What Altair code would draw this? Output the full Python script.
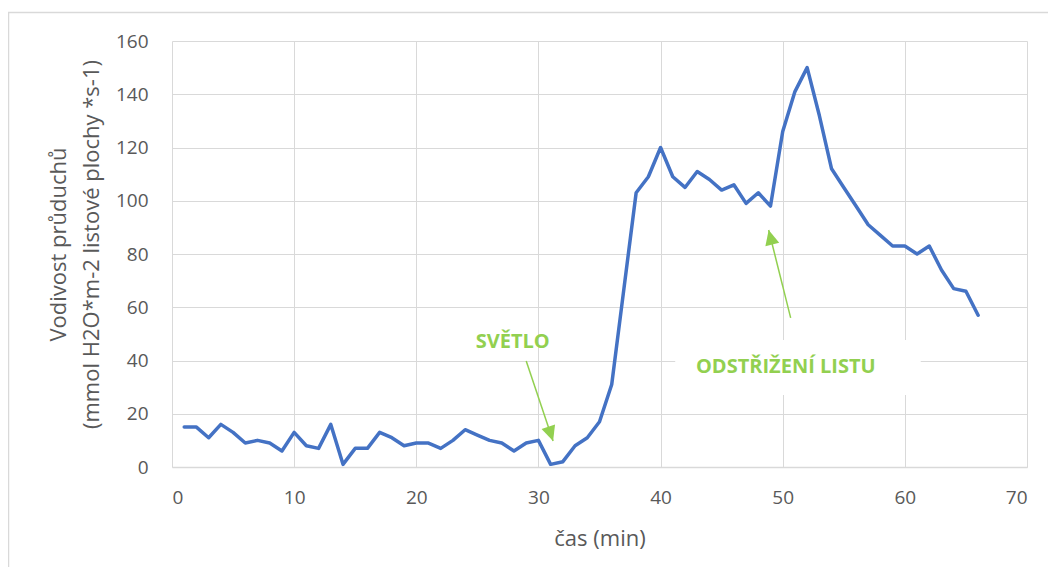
import math
import altair as alt
import pandas as pd

# ---- data ----
minutes = list(range(1, 67))
conductance = [15, 15, 11, 16, 13, 9, 10, 9, 6, 13,
               8, 7, 16, 1, 7, 7, 13, 11, 8, 9,
               9, 7, 10, 14, 12, 10, 9, 6, 9, 10,
               1, 2, 8, 11, 17, 31, 67, 103, 109, 120,
               109, 105, 111, 108, 104, 106, 99, 103, 98, 126,
               141, 150, 132, 112, 105, 98, 91, 87, 83, 83,
               80, 83, 74, 67, 66, 57]

x_ticks = [0, 10, 20, 30, 40, 50, 60, 70]
y_ticks = [0, 20, 40, 60, 80, 100, 120, 140, 160]

note_text = ["SVĚTLO", "ODSTŘIŽENÍ LISTU"]
note_x = [27.9, 50.25]
note_y = [47.0, 37.6]

arrow_x_start = [29.0, 50.65]
arrow_y_start = [39.8, 56.0]
arrow_x_tip = [31.2, 48.85]
arrow_y_tip = [9.8, 89.0]

box_x = [41.2]
box_x2 = [61.3]
box_y = [27.0]
box_y2 = [47.7]

W, H = 855, 426
X_MAX, Y_MAX = 70, 160
px_x = W / X_MAX
px_y = H / Y_MAX

df = pd.DataFrame({"t": minutes, "g": conductance})
notes = pd.DataFrame({"label": note_text, "x": note_x, "y": note_y})
angles = [math.degrees(math.atan2((xt - xs) * px_x, (yt - ys) * px_y)) % 360
          for xs, ys, xt, yt in zip(arrow_x_start, arrow_y_start, arrow_x_tip, arrow_y_tip)]
arrows = pd.DataFrame({"xs": arrow_x_start, "ys": arrow_y_start,
                       "xt": arrow_x_tip, "yt": arrow_y_tip, "ang": angles})
box = pd.DataFrame({"x": box_x, "x2": box_x2, "y": box_y, "y2": box_y2})
frame = pd.DataFrame({"k": [0]})

GREEN = "#92D050"
GREY = "#595959"
GRID = "#d9d9d9"
FONT = "Open Sans"

xscale = alt.Scale(domain=[0, X_MAX], nice=False, zero=False)
yscale = alt.Scale(domain=[0, Y_MAX], nice=False)

x_axis = alt.Axis(values=x_ticks, grid=True, gridColor=GRID, domainColor=GRID, domainWidth=1.3,
                  ticks=False, tickSize=0, labelFontSize=19, labelColor=GREY, labelFont=FONT,
                  labelPadding=21, title="čas (min)", titleFont=FONT, titleFontSize=22,
                  titleFontWeight="normal", titleColor=GREY, titleY=71, titleBaseline="middle")
y_axis = alt.Axis(values=y_ticks, grid=True, gridColor=GRID, domain=False, ticks=False, tickSize=0,
                  labelFontSize=19, labelColor=GREY, labelFont=FONT, labelPadding=24,
                  title=["Vodivost průduchů", "(mmol H2O*m-2 listové  plochy *s-1)"],
                  titleFont=FONT, titleFontSize=22, titleFontWeight="normal", titleColor=GREY,
                  titleLineHeight=33, titleX=-114, titleY=203, titleBaseline="middle",
                  titleAlign="center")

frame_layer = alt.Chart(frame).mark_rect(fillOpacity=0, stroke=GRID, strokeWidth=1.5).encode(
    x=alt.value(-163.5), x2=alt.value(950), y=alt.value(-28.5), y2=alt.value(700))

line = alt.Chart(df).mark_line(color="#4472C4", strokeWidth=3.5, strokeJoin="round",
                               strokeCap="round").encode(
    x=alt.X("t:Q", scale=xscale, axis=x_axis),
    y=alt.Y("g:Q", scale=yscale, axis=y_axis),
)

box_layer = alt.Chart(box).mark_rect(color="white").encode(
    x=alt.X("x:Q", scale=xscale), x2="x2:Q",
    y=alt.Y("y:Q", scale=yscale), y2="y2:Q")

text_layer = alt.Chart(notes).mark_text(font=FONT, fontWeight="bold", fontSize=20, color=GREEN,
                                        align="center", baseline="middle").encode(
    x=alt.X("x:Q", scale=xscale), y=alt.Y("y:Q", scale=yscale), text="label:N")

shaft = alt.Chart(arrows).mark_rule(color=GREEN, strokeWidth=1.5).encode(
    x=alt.X("xs:Q", scale=xscale), y=alt.Y("ys:Q", scale=yscale), x2="xt:Q", y2="yt:Q")

head = alt.Chart(arrows).mark_point(shape="M0,0L-0.95,2L0.95,2Z", filled=True, opacity=1,
                                    color=GREEN, size=225, strokeWidth=0).encode(
    x=alt.X("xt:Q", scale=xscale), y=alt.Y("yt:Q", scale=yscale),
    angle=alt.Angle("ang:Q", scale=None))

chart = alt.layer(frame_layer, line, box_layer, text_layer, shaft, head).properties(
    width=W, height=H,
    autosize=alt.AutoSizeParams(type="none"),
    padding={"left": 164, "top": 33, "right": 21, "bottom": 100},
    background="white",
).configure_view(stroke=None)

chart.save("out.html", embed_options={"renderer": "svg", "actions": False})
